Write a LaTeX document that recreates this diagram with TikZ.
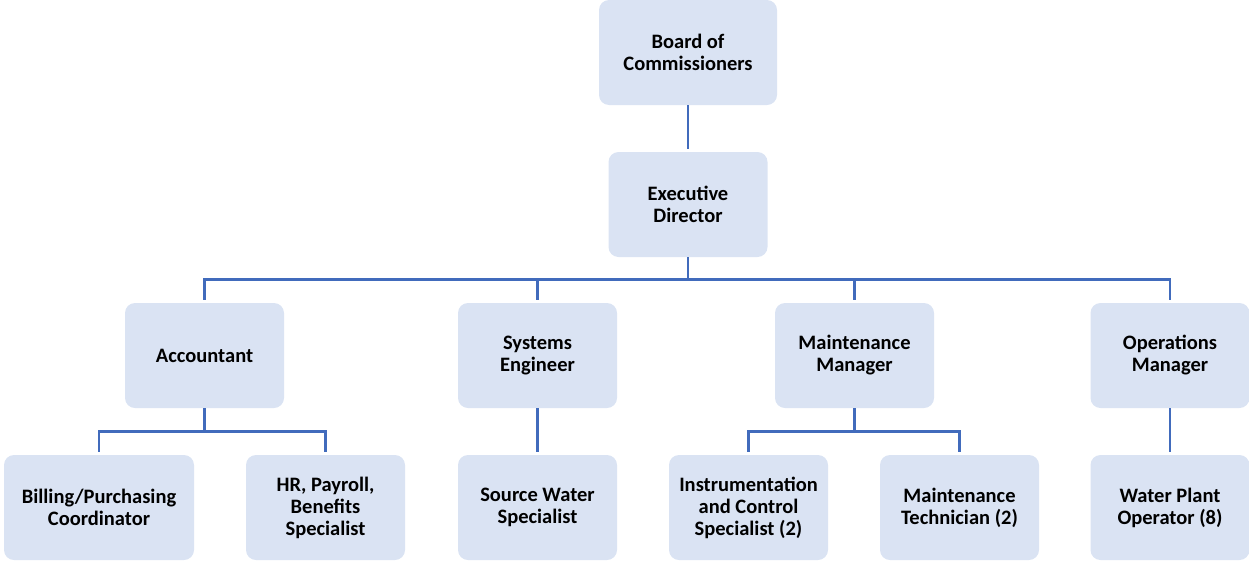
\documentclass[tikz,border=0pt]{standalone}
\usepackage{fontspec}
\setmainfont{Carlito}
\usetikzlibrary{calc}

\definecolor{boxfill}{HTML}{DAE3F3}
\definecolor{linkblue}{HTML}{416BBC}

\tikzset{
  post/.style={fill=boxfill, rounded corners=10pt, minimum width=159pt,
    minimum height=105pt, align=center, inner sep=2pt,
    font=\fontsize{20.5}{22}\selectfont\bfseries},
  link/.style={draw=linkblue, line width=2.8pt, shorten >=3pt}
}

\begin{document}
\begin{tikzpicture}[x=1pt, y=-1pt]
  \useasboundingbox (0,0) rectangle (1249,560);

  % Top of the chart
  \node [post, minimum width=178pt] (board) at (688,52.5) {Board of\\Commissioners};
  \node [post] (exec) at (688,204.5) {Executive\\Director};

  % Second row
  \node [post] (acc) at (204.5,355.5) {Accountant};
  \node [post] (sys) at (537.5,355.5) {Systems\\Engineer};
  \node [post] (mnt) at (854.5,355.5) {Maintenance\\Manager};
  \node [post] (ops) at (1170,355.5) {Operations\\Manager};

  % Third row
  \node [post, minimum width=190pt] (bill) at (99,507.5) {Billing/Purchasing\\Coordinator};
  \node [post] (hr) at (325.5,507.5) {HR, Payroll,\\Benefits\\Specialist};
  \node [post] (src) at (537.5,507.5) {Source Water\\Specialist};
  \node [post] (inst) at (748.5,507.5) {Instrumentation\\and Control\\Specialist (2)};
  \node [post] (tech) at (959.5,507.5) {Maintenance\\Technician (2)};
  \node [post] (wpo) at (1170,507.5) {Water Plant\\Operator (8)};

  % Connectors
  \draw [link] (board) -- (exec);
  \foreach \n in {acc, sys, mnt, ops}
    \draw [link] (exec.south) |- ($(\n.north)+(0,-23)$) -- (\n.north);
  \foreach \p/\c in {acc/bill, acc/hr, mnt/inst, mnt/tech}
    \draw [link] (\p.south) |- ($(\c.north)+(0,-23)$) -- (\c.north);
  \draw [link] (sys) -- (src);
  \draw [link] (ops) -- (wpo);
\end{tikzpicture}
\end{document}
